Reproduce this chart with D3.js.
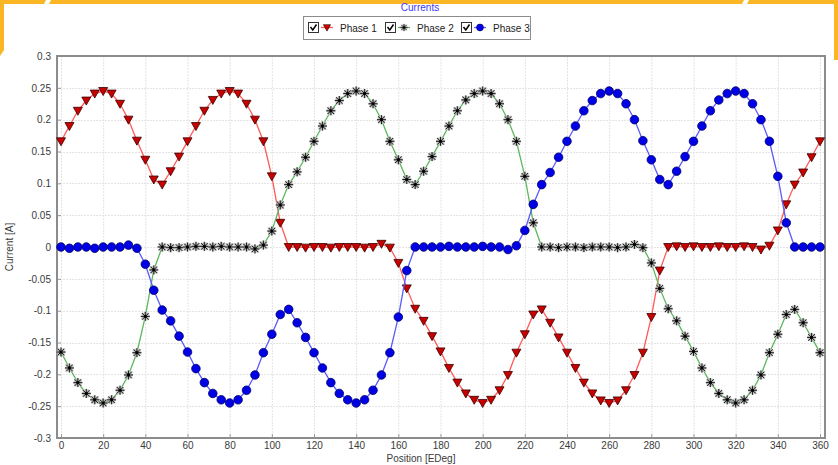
<!DOCTYPE html>
<html>
<head>
<meta charset="utf-8">
<script src="https://cdn.jsdelivr.net/npm/d3@7"></script>
<style>
  html, body { margin: 0; padding: 0; background: #fff; }
  svg { display: block; font-family: "Liberation Sans", Arial, sans-serif; }
</style>
</head>
<body>
<div class="svg-container"></div>
<script>
(function () {

	"use strict";

	// data (position step 4 deg)
	var positions = d3.range(0, 361, 4);

	var phase1 = [
		0.166, 0.190, 0.214, 0.230, 0.241, 0.245, 0.241, 0.225, 0.200, 0.167,
		0.137, 0.106, 0.098, 0.119, 0.142, 0.166, 0.190, 0.214, 0.231, 0.241,
		0.245, 0.241, 0.225, 0.200, 0.166, 0.111, 0.038, 0.000, 0.000, -0.001,
		0.000, 0.000, -0.001, 0.000, 0.000, 0.000, -0.001, 0.000, 0.005, -0.001,
		-0.025, -0.065, -0.097, -0.116, -0.140, -0.164, -0.190, -0.213, -0.230, -0.240,
		-0.245, -0.240, -0.225, -0.201, -0.166, -0.137, -0.106, -0.098, -0.119, -0.142,
		-0.166, -0.190, -0.213, -0.230, -0.241, -0.245, -0.241, -0.225, -0.201, -0.166,
		-0.110, -0.037, 0.000, 0.001, 0.000, 0.001, 0.000, 0.000, 0.001, 0.000,
		0.000, 0.001, 0.000, -0.004, 0.002, 0.026, 0.067, 0.098, 0.117, 0.141,
		0.166
	];

	var phase2 = [
		-0.165, -0.190, -0.213, -0.230, -0.240, -0.245, -0.240, -0.225, -0.201, -0.166,
		-0.109, -0.036, 0.000, -0.001, -0.001, 0.000, 0.001, 0.001, 0.000, 0.001,
		0.000, 0.000, 0.000, -0.003, 0.003, 0.025, 0.066, 0.098, 0.118, 0.141,
		0.166, 0.190, 0.214, 0.230, 0.241, 0.245, 0.241, 0.225, 0.200, 0.166,
		0.137, 0.106, 0.098, 0.119, 0.142, 0.166, 0.190, 0.214, 0.231, 0.241,
		0.245, 0.241, 0.225, 0.200, 0.166, 0.111, 0.038, 0.000, 0.000, -0.001,
		0.000, 0.000, -0.001, 0.000, 0.000, 0.000, -0.001, 0.000, 0.004, -0.001,
		-0.025, -0.065, -0.097, -0.116, -0.140, -0.164, -0.190, -0.213, -0.230, -0.240,
		-0.245, -0.240, -0.225, -0.201, -0.166, -0.137, -0.106, -0.098, -0.119, -0.142,
		-0.166
	];

	var phase3 = [
		0.000, -0.002, 0.000, 0.000, -0.002, 0.000, 0.000, 0.000, 0.003, -0.002,
		-0.027, -0.068, -0.099, -0.116, -0.140, -0.165, -0.191, -0.213, -0.230, -0.240,
		-0.245, -0.240, -0.225, -0.201, -0.166, -0.137, -0.106, -0.098, -0.119, -0.142,
		-0.166, -0.190, -0.213, -0.230, -0.240, -0.245, -0.240, -0.225, -0.201, -0.166,
		-0.110, -0.037, 0.000, 0.000, 0.000, 0.000, 0.001, 0.000, 0.000, 0.000,
		0.001, 0.000, 0.000, -0.004, 0.002, 0.026, 0.067, 0.098, 0.117, 0.141,
		0.166, 0.190, 0.214, 0.230, 0.241, 0.245, 0.241, 0.225, 0.200, 0.167,
		0.137, 0.106, 0.098, 0.119, 0.142, 0.166, 0.190, 0.214, 0.231, 0.241,
		0.245, 0.241, 0.225, 0.200, 0.166, 0.111, 0.038, 0.000, 0.000, 0.000,
		0.000
	];

	var series_names = [ "Phase 1", "Phase 2", "Phase 3" ];
	var x_ticks = d3.range(0, 361, 20);
	var y_ticks = [ 0.3, 0.25, 0.2, 0.15, 0.1, 0.05, 0, -0.05, -0.1, -0.15, -0.2, -0.25, -0.3 ];

	// colors
	var line_colors   = [ "#ff5a5a", "#5cb85c", "#5a5aff" ];
	var orange        = "#fbb626";
	var frame_color   = "#8c8c8c";

	var width = 838, height = 465;
	var plot = { left: 57, right: 825, top: 56, bottom: 438 };

	var svg = d3.select(".svg-container").append("svg")
		.attr("width", width)
		.attr("height", height);

	// orange window frame pieces
	var deco = svg.append("g").attr("fill", orange);
	deco.append("polygon").attr("points", "0,0 46,0 44,4 0,4");
	deco.append("polygon").attr("points", "51,0 744,0 742,4 49,4");
	deco.append("polygon").attr("points", "749,0 838,0 838,4 747,4");
	deco.append("polygon").attr("points", "0,0 4,0 4,50 0,56");
	deco.append("polygon").attr("points", "834,0 838,0 838,60 834,60");

	var x = d3.scaleLinear().domain([0, 360]).range([61, 820]);
	var y = d3.scaleLinear().domain([-0.3, 0.3]).range([plot.bottom, plot.top]);

	// grid
	var grid = svg.append("g").attr("stroke", "#e4e4e4").attr("stroke-dasharray", "2,1");
	grid.selectAll(".vx").data(x_ticks).enter().append("line")
		.attr("x1", function (d) { return x(d) + 0.5; })
		.attr("x2", function (d) { return x(d) + 0.5; })
		.attr("y1", plot.top).attr("y2", plot.bottom);
	grid.selectAll(".hy").data(y_ticks).enter().append("line")
		.attr("x1", plot.left).attr("x2", plot.right)
		.attr("y1", function (d) { return Math.round(y(d)) + 0.5; })
		.attr("y2", function (d) { return Math.round(y(d)) + 0.5; });

	// axes
	var fmt = function (d) { return String(+d.toFixed(2)); };

	var x_axis = svg.append("g")
		.attr("transform", "translate(0," + plot.bottom + ")")
		.call(d3.axisBottom(x).tickValues(x_ticks).tickSize(-4).tickPadding(4).tickFormat(fmt));
	var y_axis = svg.append("g")
		.attr("transform", "translate(" + plot.left + ",0)")
		.call(d3.axisLeft(y).tickValues(y_ticks).tickSize(-4).tickPadding(6).tickFormat(fmt));

	[ x_axis, y_axis ].forEach(function (a) {
		a.select(".domain").remove();
		a.selectAll(".tick line").attr("stroke", "#9a9a9a");
		a.selectAll(".tick text")
			.attr("fill", "#3a3a3a")
			.style("font-size", "10px")
			.style("font-family", "'Liberation Sans', Arial, sans-serif");
	});

	// frame
	svg.append("rect")
		.attr("x", plot.left).attr("y", plot.top)
		.attr("width", plot.right - plot.left).attr("height", plot.bottom - plot.top)
		.attr("fill", "none").attr("stroke", frame_color).attr("stroke-width", 2);

	// axis titles
	svg.append("text")
		.attr("x", 421).attr("y", 462)
		.attr("text-anchor", "middle")
		.attr("fill", "#3a3a3a").style("font-size", "10px")
		.text("Position [EDeg]");
	svg.append("text")
		.attr("transform", "translate(13,247) rotate(-90)")
		.attr("text-anchor", "middle")
		.attr("fill", "#3a3a3a").style("font-size", "10px")
		.text("Current [A]");

	// title
	svg.append("text")
		.attr("x", 420).attr("y", 11)
		.attr("text-anchor", "middle")
		.attr("fill", "#3b3bff").style("font-size", "10px")
		.text("Currents");

	// markers
	function drawMarker(g, k) {
		if (k === 0) {
			g.append("path").attr("d", "M-4.5,-3.5 L4.5,-3.5 L0,4.5 Z")
				.attr("fill", "#c80000").attr("stroke", "#3a0000").attr("stroke-width", 0.8);
		} else if (k === 1) {
			var arms = "M-4.5,0 L4.5,0 M0,-4.5 L0,4.5 M-3.3,-3.3 L3.3,3.3 M-3.3,3.3 L3.3,-3.3";
			g.append("path").attr("d", arms).attr("stroke", "#b8b8b8").attr("stroke-width", 2.4).attr("fill", "none");
			g.append("path").attr("d", arms).attr("stroke", "#202020").attr("stroke-width", 1).attr("fill", "none");
			g.append("circle").attr("r", 1.6).attr("fill", "#000");
		} else {
			g.append("circle").attr("r", 4.3)
				.attr("fill", "#0000e6").attr("stroke", "#00006a").attr("stroke-width", 0.8);
		}
	}

	var all_series = [ phase1, phase2, phase3 ];

	var line = d3.line()
		.x(function (d, i) { return x(positions[i]); })
		.y(function (d) { return y(d); });

	all_series.forEach(function (values, k) {
		var g = svg.append("g").attr("class", "series");
		g.append("path")
			.datum(values)
			.attr("fill", "none")
			.attr("stroke", line_colors[k])
			.attr("stroke-width", 1.3)
			.attr("d", line);
		g.selectAll(".pt").data(values).enter().append("g")
			.attr("class", "pt")
			.attr("transform", function (d, i) { return "translate(" + x(positions[i]) + "," + y(d) + ")"; })
			.each(function () { drawMarker(d3.select(this), k); });
	});

	// legend
	var legend = svg.append("g");
	legend.append("rect")
		.attr("x", 303.5).attr("y", 16.5).attr("width", 227).attr("height", 23)
		.attr("fill", "#fff").attr("stroke", "#8c8c8c");

	var item_x = [ 308, 385, 461 ];
	series_names.forEach(function (name, k) {
		var gx = item_x[k];
		var item = legend.append("g").attr("transform", "translate(" + gx + ",22)");
		item.append("rect").attr("x", 0.5).attr("y", 0.5).attr("width", 10).attr("height", 10)
			.attr("fill", "#fff").attr("stroke", "#333");
		item.append("path").attr("d", "M2.5,5 L4.8,8 L8.5,2.5")
			.attr("fill", "none").attr("stroke", "#000").attr("stroke-width", 1.5);
		item.append("line").attr("x1", 13).attr("x2", 25).attr("y1", 5.5).attr("y2", 5.5)
			.attr("stroke", line_colors[k]).attr("stroke-width", 1.3);
		var m = item.append("g").attr("transform", "translate(19,5.5) scale(0.8)");
		drawMarker(m, k);
		item.append("text").attr("x", 32).attr("y", 9.5)
			.attr("fill", "#222").style("font-size", "10px")
			.text(name);
	});

})();
</script>
</body>
</html>
